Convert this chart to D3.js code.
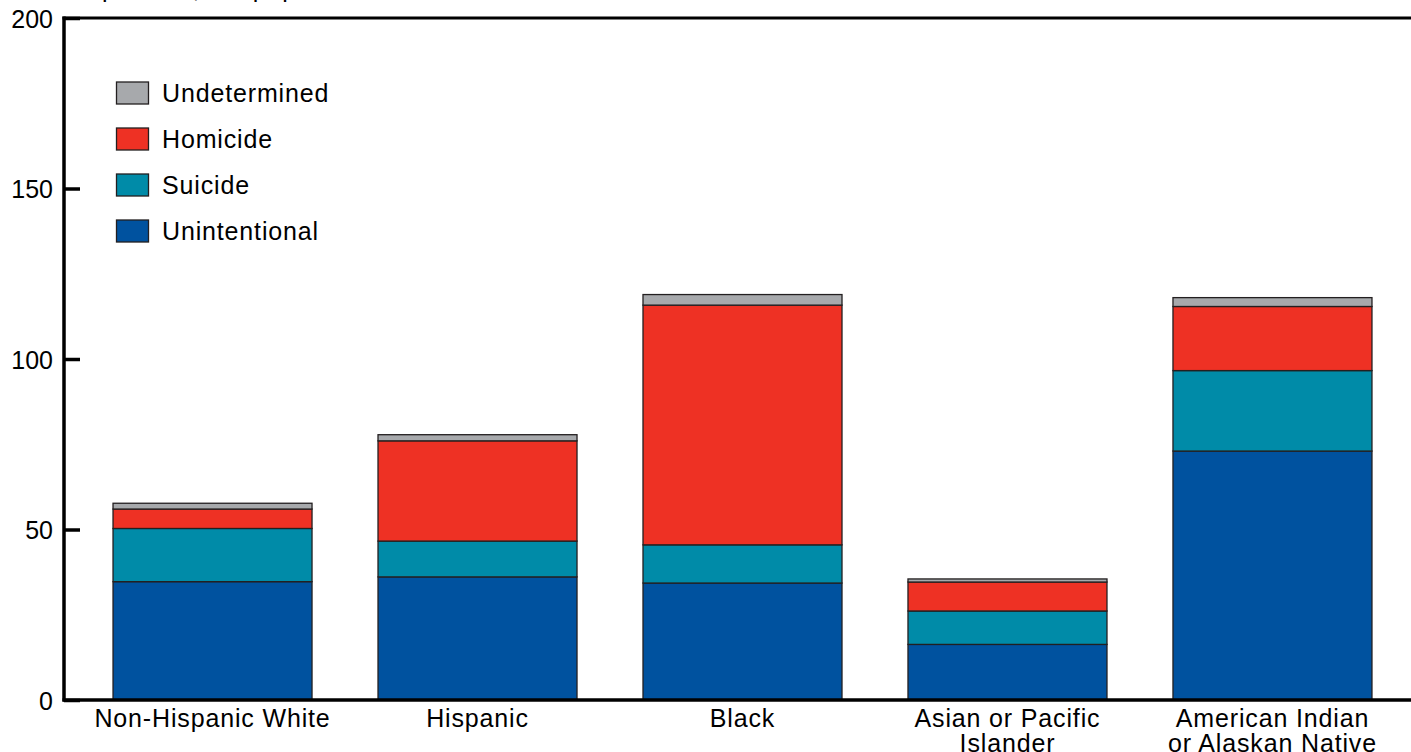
<!DOCTYPE html>
<html>
<head>
<meta charset="utf-8">
<script src="https://cdn.jsdelivr.net/npm/d3@7"></script>
<style>
  html, body { margin: 0; padding: 0; background: #fff; }
  svg { display: block; font-family: "Liberation Sans", Arial, Helvetica, sans-serif; }
</style>
</head>
<body>
<svg id="chart" width="1411" height="752"></svg>
<script>
// ---- data ----
const categories = [
  ["Non-Hispanic White"],
  ["Hispanic"],
  ["Black"],
  ["Asian or Pacific", "Islander"],
  ["American Indian", "or Alaskan Native"]
];
const seriesNames = ["Unintentional", "Suicide", "Homicide", "Undetermined"];
const unintentional = [34.7, 36.1, 34.3, 16.3, 73.0];
const suicide       = [15.6, 10.5, 11.2,  9.8, 23.6];
const homicide      = [ 5.7, 29.4, 70.3,  8.5, 18.8];
const undetermined  = [ 1.7,  1.8,  3.1,  0.9,  2.6];
const yTicks = [0, 50, 100, 150, 200];
const yTitle = "Deaths per 100,000 population";

const colors = {
  "Unintentional": "#00529f",
  "Suicide": "#008ba8",
  "Homicide": "#ee3124",
  "Undetermined": "#a7a9ac"
};

// ---- build table ----
const table = categories.map((c, i) => ({
  key: c.join(" "),
  lines: c,
  "Unintentional": unintentional[i],
  "Suicide": suicide[i],
  "Homicide": homicide[i],
  "Undetermined": undetermined[i]
}));

const svg = d3.select("#chart");
const W = 1411, H = 752;
const x0 = 64, yTop = 18, yBottom = 700;

const y = d3.scaleLinear().domain([0, 200]).range([yBottom, yTop]);
const x = d3.scaleBand()
  .domain(table.map(d => d.key))
  .range([x0, 1421])
  .paddingInner(0.249)
  .paddingOuter(0.185);

const stack = d3.stack().keys(seriesNames);
const layers = stack(table);

// bars
const g = svg.append("g");
layers.forEach(layer => {
  g.selectAll(null)
    .data(layer)
    .enter()
    .append("rect")
    .attr("x", d => x(d.data.key))
    .attr("width", x.bandwidth())
    .attr("y", d => y(d[1]))
    .attr("height", d => y(d[0]) - y(d[1]))
    .attr("fill", colors[layer.key])
    .attr("stroke", "#231f20")
    .attr("stroke-width", 1.3);
});

// y axis
const yAxis = d3.axisRight(y).tickValues(yTicks).tickSize(16).tickFormat("");
const ya = svg.append("g").attr("transform", `translate(${x0},0)`).call(yAxis);
ya.select(".domain").remove();
ya.selectAll(".tick line").attr("stroke", "#000").attr("stroke-width", 3.5);

svg.append("g").selectAll("text")
  .data(yTicks).enter().append("text")
  .attr("x", 53).attr("y", d => y(d))
  .attr("dy", "0.38em")
  .attr("text-anchor", "end")
  .attr("font-size", 25)
  .attr("fill", "#000")
  .text(d => d);

// frame lines
svg.append("line").attr("x1", x0).attr("x2", x0).attr("y1", yTop - 1.5).attr("y2", yBottom + 1.5)
  .attr("stroke", "#000").attr("stroke-width", 3.5);
svg.append("line").attr("x1", x0 - 1.5).attr("x2", W).attr("y1", yTop).attr("y2", yTop)
  .attr("stroke", "#000").attr("stroke-width", 3);
svg.append("line").attr("x1", x0 - 1.5).attr("x2", W).attr("y1", yBottom).attr("y2", yBottom)
  .attr("stroke", "#000").attr("stroke-width", 3.5);

// y title (mostly above the visible area)
svg.append("text").attr("x", 10).attr("y", -3).attr("font-size", 25)
  .attr("letter-spacing", 0.85).attr("fill", "#000").text(yTitle);

// x labels
const xl = svg.append("g");
table.forEach(d => {
  const cx = x(d.key) + x.bandwidth() / 2;
  const t = xl.append("text")
    .attr("x", cx)
    .attr("y", 727)
    .attr("text-anchor", "middle")
    .attr("font-size", 25)
    .attr("letter-spacing", 0.85)
    .attr("fill", "#000");
  d.lines.forEach((ln, i) => {
    t.append("tspan").attr("x", cx).attr("dy", i === 0 ? 0 : 25).text(ln);
  });
});

// legend
const legendOrder = ["Undetermined", "Homicide", "Suicide", "Unintentional"];
const lg = svg.append("g");
legendOrder.forEach((k, i) => {
  const cy = 93 + i * 46;
  lg.append("rect").attr("x", 116.5).attr("y", cy - 11).attr("width", 32).attr("height", 22)
    .attr("fill", colors[k]).attr("stroke", "#231f20").attr("stroke-width", 1.3);
  lg.append("text").attr("x", 162).attr("y", cy).attr("dy", "0.36em")
    .attr("font-size", 25).attr("letter-spacing", 0.85).attr("fill", "#000").text(k);
});
</script>
</body>
</html>
